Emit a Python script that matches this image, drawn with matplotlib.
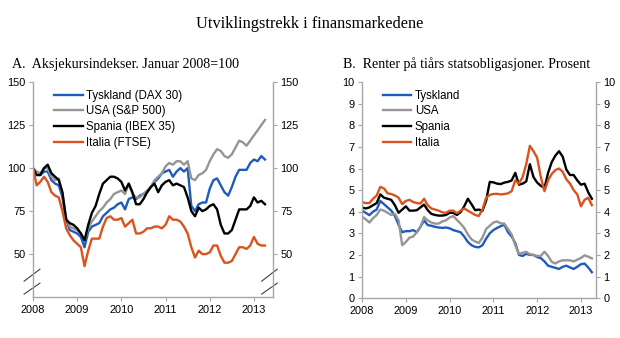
import matplotlib
matplotlib.use('Agg')
import matplotlib.pyplot as plt
import numpy as np

# monthly observations, January 2008 - April 2013
months = np.arange(64)
years = [2008, 2009, 2010, 2011, 2012, 2013]

# panel A: stock indices, January 2008 = 100
tyskland_idx = [100, 96, 96, 98, 98, 93, 91, 90, 83, 70, 64, 63, 62, 60, 54, 63,
                66, 67, 68, 72, 74, 76, 77, 79, 80, 76, 82, 83, 82, 84, 85, 86,
                89, 92, 94, 97, 98, 99, 95, 98, 100, 98, 100, 78, 75, 79, 80, 80,
                88, 93, 94, 90, 86, 84, 89, 95, 99, 99, 99, 103, 105, 104, 107, 105]
usa_idx = [100, 98, 97, 100, 100, 95, 93, 94, 85, 71, 66, 65, 64, 62, 58, 65,
           69, 72, 75, 77, 80, 82, 85, 86, 87, 85, 91, 85, 83, 83, 85, 87,
           89, 93, 95, 97, 101, 103, 102, 104, 104, 102, 104, 94, 93, 96, 97, 99,
           104, 108, 111, 110, 107, 106, 108, 112, 116, 115, 113, 116, 119, 122, 125, 128]
spania_idx = [100, 96, 96, 100, 102, 97, 95, 93, 86, 70, 68, 67, 65, 62, 58, 67,
              74, 78, 85, 91, 93, 95, 95, 94, 92, 87, 91, 86, 79, 79, 82, 86,
              89, 91, 86, 90, 92, 93, 90, 91, 90, 89, 83, 75, 72, 77, 75, 76,
              78, 79, 76, 67, 62, 62, 64, 70, 76, 76, 76, 78, 83, 80, 81, 79]
italia_idx = [100, 90, 92, 95, 92, 86, 84, 83, 75, 65, 61, 58, 56, 54, 43, 52,
              59, 59, 59, 66, 71, 72, 70, 70, 71, 66, 68, 70, 62, 62, 63, 65,
              65, 66, 66, 65, 67, 72, 70, 70, 69, 66, 62, 54, 48, 52, 50, 50,
              51, 55, 55, 49, 45, 45, 46, 50, 54, 54, 53, 55, 60, 56, 55, 55]

# panel B: ten-year government bond yields, percent
tyskland_rate = [4.05, 3.95, 3.84, 4.0, 4.1, 4.5, 4.35, 4.2, 4.05, 3.8, 3.4, 3.05, 3.1, 3.1, 3.15, 3.05,
                 3.3, 3.6, 3.38, 3.35, 3.3, 3.27, 3.25, 3.27, 3.23, 3.15, 3.1, 3.05, 2.85, 2.6, 2.45, 2.37,
                 2.35, 2.45, 2.75, 3.0, 3.15, 3.25, 3.33, 3.4, 3.05, 2.85, 2.55, 2.0, 1.95, 2.05, 2.0, 2.0,
                 1.9, 1.85, 1.7, 1.5, 1.45, 1.4, 1.35, 1.45, 1.5, 1.42, 1.35, 1.45, 1.57, 1.6, 1.42, 1.2]
usa_rate = [3.77, 3.65, 3.5, 3.7, 3.85, 4.1, 4.05, 3.95, 3.85, 3.9, 3.6, 2.45, 2.6, 2.8, 2.85, 3.05,
            3.3, 3.75, 3.6, 3.5, 3.45, 3.45, 3.55, 3.6, 3.73, 3.8, 3.62, 3.45, 3.25, 2.95, 2.72, 2.62,
            2.55, 2.8, 3.2, 3.35, 3.5, 3.55, 3.46, 3.45, 3.2, 2.95, 2.45, 2.05, 2.1, 2.14, 2.03, 2.0,
            1.95, 1.95, 2.15, 1.95, 1.68, 1.6, 1.7, 1.75, 1.75, 1.75, 1.7, 1.78, 1.86, 1.98, 1.92, 1.84]
spania_rate = [4.2, 4.15, 4.2, 4.3, 4.4, 4.8, 4.65, 4.6, 4.55, 4.3, 3.95, 4.1, 4.25, 4.05, 4.05, 4.07,
               4.2, 4.33, 4.07, 3.9, 3.85, 3.82, 3.82, 3.85, 3.95, 3.95, 3.85, 3.98, 4.25, 4.6, 4.35, 4.07,
               4.1, 4.04, 4.5, 5.38, 5.36, 5.3, 5.28, 5.35, 5.38, 5.45, 5.8, 5.25, 5.3, 5.4, 6.2, 5.6,
               5.35, 5.2, 5.1, 5.8, 6.3, 6.6, 6.8, 6.55, 5.95, 5.7, 5.7, 5.45, 5.25, 5.3, 4.9, 4.6]
italia_rate = [4.45, 4.4, 4.4, 4.6, 4.75, 5.15, 5.08, 4.85, 4.82, 4.75, 4.65, 4.35, 4.5, 4.55, 4.45, 4.4,
               4.38, 4.6, 4.3, 4.15, 4.1, 4.05, 3.97, 3.95, 4.05, 4.05, 3.93, 4.05, 4.15, 4.05, 3.95, 3.85,
               3.8, 4.1, 4.65, 4.78, 4.82, 4.83, 4.8, 4.82, 4.85, 4.95, 5.45, 5.3, 5.6, 6.2, 7.05, 6.8,
               6.5, 5.6, 4.95, 5.45, 5.75, 5.93, 6.0, 5.85, 5.5, 5.3, 5.0, 4.8, 4.25, 4.55, 4.65, 4.3]

labels_a = ['Tyskland (DAX 30)', 'USA (S&P 500)', 'Spania (IBEX 35)', 'Italia (FTSE)']
labels_b = ['Tyskland', 'USA', 'Spania', 'Italia']
colors = ['#1f5bbd', '#959595', '#000000', '#d9541c']

SANS = 'Liberation Sans'
SERIF = 'Liberation Serif'
plt.rcParams['font.family'] = SANS

t = 2008 + months / 12.0

fig = plt.figure(figsize=(6.2, 3.38), dpi=100)
ax_a = fig.add_axes([0.0532, 0.121, 0.387, 0.636])
ax_b = fig.add_axes([0.584, 0.118, 0.377, 0.639])

fig.text(0.5, 0.93, 'Utviklingstrekk i finansmarkedene', family=SERIF,
         fontsize=11.8, ha='center', va='center')
fig.text(0.019, 0.81, 'A.  Aksjekursindekser. Januar 2008=100', family=SERIF,
         fontsize=10.1, ha='left', va='center')
fig.text(0.553, 0.81, 'B.  Renter på tiårs statsobligasjoner. Prosent', family=SERIF,
         fontsize=10.1, ha='left', va='center')


def style_axes(ax):
    for side in ['left', 'right', 'bottom']:
        ax.spines[side].set_color('#a6a6a6')
        ax.spines[side].set_linewidth(1.0)
    ax.spines['top'].set_visible(False)
    ax.tick_params(axis='both', direction='out', length=3, width=0.8, color='#a6a6a6',
                   labelsize=7.9, pad=2.5)
    ax.tick_params(axis='y', right=True, labelright=True)
    ax.set_xticks(years)
    ax.set_xticklabels([str(y) for y in years])


series_a = [tyskland_idx, usa_idx, spania_idx, italia_idx]
for vals, col, lab in zip(series_a, colors, labels_a):
    ax_a.plot(t, vals, color=col, lw=1.7, label=lab)
ax_a.set_xlim(2008, 2013.43)
ax_a.set_ylim(25, 150)
ax_a.set_yticks([50, 75, 100, 125, 150])
style_axes(ax_a)

# axis break marks
for x0, x1 in [(-0.037, 0.029), (0.953, 1.018)]:
    ax_a.plot([x0, x1], [0.074, 0.130], transform=ax_a.transAxes, color='#404040',
              lw=0.8, clip_on=False)
    ax_a.plot([x0, x1], [0.014, 0.065], transform=ax_a.transAxes, color='#404040',
              lw=0.8, clip_on=False)

series_b = [tyskland_rate, usa_rate, spania_rate, italia_rate]
for vals, col, lab in zip(series_b, colors, labels_b):
    ax_b.plot(t, vals, color=col, lw=1.7, label=lab)
ax_b.set_xlim(2008, 2013.34)
ax_b.set_ylim(0, 10)
ax_b.set_yticks(range(0, 11))
style_axes(ax_b)

for ax, anchor in [(ax_a, (0.087, 0.735)), (ax_b, (0.617, 0.735))]:
    ax.legend(loc='upper left', bbox_to_anchor=anchor, bbox_transform=fig.transFigure,
              frameon=False, fontsize=8.3, handlelength=2.5, handletextpad=0.3,
              labelspacing=0.33, borderaxespad=0, borderpad=0)

fig.savefig('out.png', dpi=100)
plt.close(fig)
